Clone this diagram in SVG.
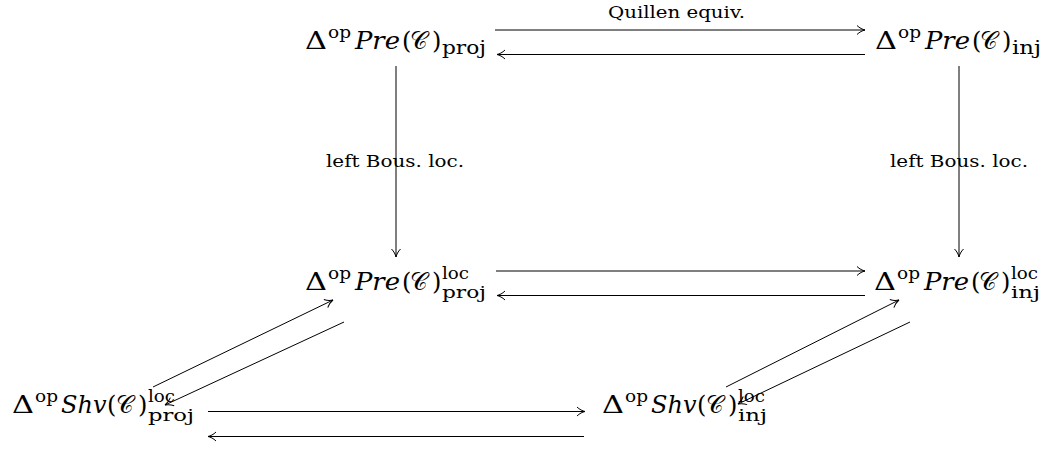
<svg xmlns="http://www.w3.org/2000/svg" width="1050" height="451" viewBox="0 0 1050 451">
<defs>
<style>
.c{fill:none;stroke:#000;stroke-width:1;marker-end:url(#ah)}
</style>
<marker id="ah" markerUnits="userSpaceOnUse" viewBox="-9 -6 10 12" markerWidth="10" markerHeight="12" refX="0" refY="0" orient="auto">
<path d="M-8,-4.5 C-5.5,-2 -2.5,-0.6 0,0 C-2.5,0.6 -5.5,2 -8,4.5" fill="none" stroke="#000" stroke-width="1"/>
</marker>
</defs>
<rect width="1050" height="451" fill="#fff"/>

<g id="connectors">
<line class="c" x1="495" y1="30" x2="865" y2="30"/>
<line class="c" x1="865" y1="54.5" x2="497" y2="54.5"/>
<line class="c" x1="396" y1="66" x2="396" y2="257"/>
<line class="c" x1="959" y1="66" x2="959" y2="257"/>
<line class="c" x1="496" y1="271" x2="865" y2="271"/>
<line class="c" x1="865" y1="295.5" x2="497" y2="295.5"/>
<line class="c" x1="208" y1="411.5" x2="585" y2="411.5"/>
<line class="c" x1="584" y1="436.5" x2="208" y2="436.5"/>
<line class="c" x1="153" y1="387" x2="333" y2="300"/>
<line class="c" x1="344" y1="322" x2="165" y2="405"/>
<line class="c" x1="726" y1="387" x2="899" y2="300"/>
<line class="c" x1="910" y1="322" x2="738" y2="404"/>
<g font-family="DejaVu Serif, serif" font-size="16" fill="#000">
<text x="608" y="18" textLength="137" lengthAdjust="spacingAndGlyphs">Quillen equiv.</text>
<text x="326" y="167" textLength="138" lengthAdjust="spacingAndGlyphs">left Bous. loc.</text>
<text x="890" y="167" textLength="138" lengthAdjust="spacingAndGlyphs">left Bous. loc.</text>
</g>
</g>

<g id="pre-proj" font-family="DejaVu Serif, serif" font-size="24" fill="#000">
<text y="49"><tspan x="305" textLength="22" lengthAdjust="spacingAndGlyphs">Δ</tspan><tspan x="328" y="38" font-size="17" textLength="23" lengthAdjust="spacingAndGlyphs">op</tspan><tspan x="355" y="49" font-style="italic" textLength="45" lengthAdjust="spacingAndGlyphs">Pre</tspan><tspan x="402">(</tspan><tspan x="410">𝒞</tspan><tspan x="432">)</tspan><tspan x="442" y="54" font-size="18" textLength="44" lengthAdjust="spacingAndGlyphs">proj</tspan></text>
</g>

<g id="pre-inj" font-family="DejaVu Serif, serif" font-size="24" fill="#000">
<text y="49"><tspan x="875" textLength="22" lengthAdjust="spacingAndGlyphs">Δ</tspan><tspan x="898" y="38" font-size="17" textLength="23" lengthAdjust="spacingAndGlyphs">op</tspan><tspan x="925" y="49" font-style="italic" textLength="45" lengthAdjust="spacingAndGlyphs">Pre</tspan><tspan x="972">(</tspan><tspan x="980">𝒞</tspan><tspan x="1002">)</tspan><tspan x="1012" y="54" font-size="18" textLength="29" lengthAdjust="spacingAndGlyphs">inj</tspan></text>
</g>

<g id="pre-loc-proj" font-family="DejaVu Serif, serif" font-size="24" fill="#000">
<text y="290"><tspan x="305" textLength="22" lengthAdjust="spacingAndGlyphs">Δ</tspan><tspan x="328" y="279" font-size="17" textLength="23" lengthAdjust="spacingAndGlyphs">op</tspan><tspan x="355" y="290" font-style="italic" textLength="45" lengthAdjust="spacingAndGlyphs">Pre</tspan><tspan x="402">(</tspan><tspan x="410">𝒞</tspan><tspan x="432">)</tspan><tspan x="442" y="279" font-size="16" textLength="27" lengthAdjust="spacingAndGlyphs">loc</tspan><tspan x="442" y="298" font-size="16" textLength="44" lengthAdjust="spacingAndGlyphs">proj</tspan></text>
</g>

<g id="pre-loc-inj" font-family="DejaVu Serif, serif" font-size="24" fill="#000">
<text y="290"><tspan x="874" textLength="22" lengthAdjust="spacingAndGlyphs">Δ</tspan><tspan x="897" y="279" font-size="17" textLength="23" lengthAdjust="spacingAndGlyphs">op</tspan><tspan x="924" y="290" font-style="italic" textLength="45" lengthAdjust="spacingAndGlyphs">Pre</tspan><tspan x="971">(</tspan><tspan x="979">𝒞</tspan><tspan x="1001">)</tspan><tspan x="1011" y="279" font-size="16" textLength="27" lengthAdjust="spacingAndGlyphs">loc</tspan><tspan x="1011" y="298" font-size="16" textLength="29" lengthAdjust="spacingAndGlyphs">inj</tspan></text>
</g>

<g id="shv-loc-proj" font-family="DejaVu Serif, serif" font-size="24" fill="#000">
<text y="413"><tspan x="12" textLength="22" lengthAdjust="spacingAndGlyphs">Δ</tspan><tspan x="35" y="402" font-size="17" textLength="23" lengthAdjust="spacingAndGlyphs">op</tspan><tspan x="61" y="413" font-style="italic">Shv</tspan><tspan x="107">(</tspan><tspan x="116">𝒞</tspan><tspan x="138">)</tspan><tspan x="148" y="402" font-size="16" textLength="27" lengthAdjust="spacingAndGlyphs">loc</tspan><tspan x="148" y="421" font-size="16" textLength="46" lengthAdjust="spacingAndGlyphs">proj</tspan></text>
</g>

<g id="shv-loc-inj" font-family="DejaVu Serif, serif" font-size="24" fill="#000">
<text y="413"><tspan x="602" textLength="22" lengthAdjust="spacingAndGlyphs">Δ</tspan><tspan x="625" y="402" font-size="17" textLength="23" lengthAdjust="spacingAndGlyphs">op</tspan><tspan x="651" y="413" font-style="italic">Shv</tspan><tspan x="697">(</tspan><tspan x="706">𝒞</tspan><tspan x="728">)</tspan><tspan x="738" y="402" font-size="16" textLength="27" lengthAdjust="spacingAndGlyphs">loc</tspan><tspan x="738" y="421" font-size="16" textLength="29" lengthAdjust="spacingAndGlyphs">inj</tspan></text>
</g>
</svg>
